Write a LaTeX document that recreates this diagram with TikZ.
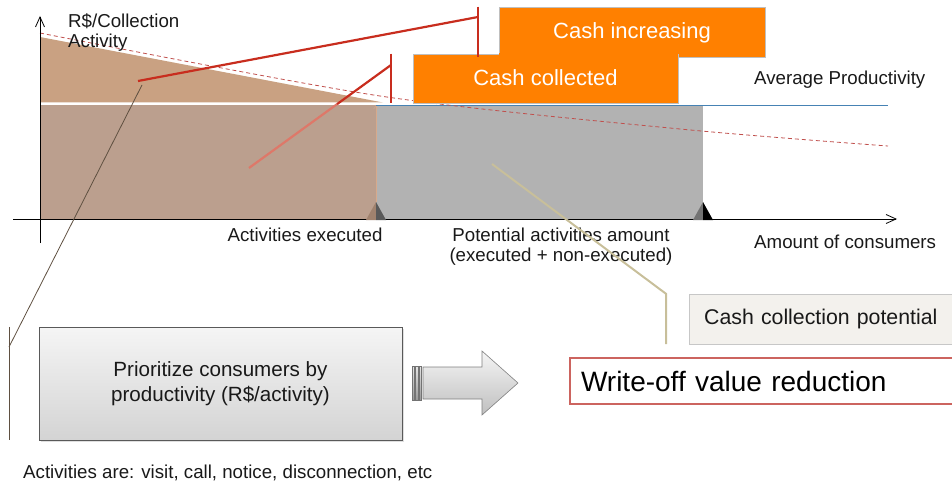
\documentclass[tikz,border=0pt]{standalone}
\usepackage{fontspec}
\setmainfont{Liberation Sans}
\usetikzlibrary{arrows.meta,shadows,calc}
\definecolor{cashorange}{RGB}{255,128,0}
\definecolor{tanfill}{RGB}{201,161,130}
\definecolor{brownfill}{RGB}{187,159,142}
\definecolor{potgray}{RGB}{178,178,178}
\definecolor{callred}{RGB}{200,45,30}
\definecolor{callpink}{RGB}{222,120,105}
\definecolor{beigeline}{RGB}{200,191,154}
\definecolor{avgblue}{RGB}{70,130,180}
\definecolor{dashred}{RGB}{192,80,77}
\definecolor{boxred}{RGB}{204,100,95}
\definecolor{ccpfill}{RGB}{243,241,237}
\definecolor{markbrown}{RGB}{160,130,110}
\definecolor{markline}{RGB}{215,170,140}
\definecolor{leadline}{RGB}{95,80,65}

\begin{document}
\begin{tikzpicture}[
  x=1pt, y=-1pt,
  lbl/.style={font=\fontsize{18.7}{20}\selectfont, text=black!90, inner sep=0pt},
  cashbox/.style={draw=black!25, line width=0.8pt, fill=cashorange, text=white,
    text height=16pt, text depth=2pt, font=\fontsize{22}{24}\selectfont},
  callout/.style={callred, line width=2.2pt},
  axis/.style={line width=0.8pt, -{Straight Barb[length=10pt,width=9pt]}},
]
\useasboundingbox (0,0) rectangle (952,484);

\fill[tanfill] (40,37) -- (383,102.5) -- (40,102.5) -- cycle;
\fill[potgray] (376,105) rectangle (703,219);
\fill[brownfill] (40,105) rectangle (376,219);
\draw[avgblue, line width=0.8pt] (376,105.5) -- (888,105.5);
\draw[dashred, line width=0.8pt, dash pattern=on 4pt off 3pt]
  plot[smooth] coordinates {(40,33) (380,96) (680,129) (888,146)};

\draw[axis] (13,219) -- (897,219);
\draw[axis] (40,243) -- (40,16);
\foreach \x/\lc/\rc in {376/markbrown/black!65, 703/black!55/black} {
  \fill[\lc] (\x,202) -- (\x-10,220) -- (\x,220) -- cycle;
  \fill[\rc] (\x,202) -- (\x+10,220) -- (\x,220) -- cycle;
}
\draw[markline, line width=0.4pt, -{To[length=3pt,width=5pt]}] (376,202) -- (376,106);

\node[lbl, anchor=north west, align=left] (ylab) at (68,13.5) {R\$/Collection\\Activity};
\node[lbl, anchor=base] (exec) at (305,241) {Activities executed};
\node[lbl, anchor=north, align=center] (pot) at (561,228) {Potential activities amount\\(executed + non-executed)};
\node[lbl, anchor=base west] (cons) at (754,248) {Amount of consumers};
\node[lbl, anchor=base west] (avg) at (754,85) {Average Productivity};

\node[cashbox, minimum width=266, minimum height=50] (ci) at (632,32) {Cash increasing};
\node[cashbox, minimum width=265, minimum height=49] (cc) at (545.5,78.5) {Cash collected};
\fill[cashorange] ($(cc.north -| ci.west)+(0.6,-0.6)$) rectangle ($(ci.south -| cc.east)+(-0.6,0.6)$);

\coordinate (ci-pt) at (138,81);
\coordinate (ci-knee) at (478,17);
\draw[callout] (ci-pt) -- (ci-knee);
\draw[callout, line width=2pt] (ci-knee |- ci.north) -- (ci-knee |- ci.south);

\coordinate (cc-pt) at (249,168);
\coordinate (cc-knee) at (391,65);
\coordinate (cc-mid) at ($(cc-pt)!0.62!(cc-knee)$);
\draw[callout, callpink] (cc-pt) -- (cc-mid);
\draw[callout] (cc-mid) -- (cc-knee);
\draw[callout, line width=2pt] (cc-knee |- cc.north) -- (cc-knee |- cc.south);

\node[draw=black!65, top color=black!4, bottom color=black!17,
  drop shadow={opacity=0.25, shadow xshift=2pt, shadow yshift=-2pt},
  minimum width=363, minimum height=113, align=center, text=black!90,
  font=\fontsize{20.6}{25}\selectfont] (prio) at (220.5,383.5) {Prioritize consumers by\\productivity (R\$/activity)};
\shade[top color=black!4, bottom color=black!25, draw=black!50, line width=0.6pt]
  (423,367) -- (482,367) -- (482,351) -- (518,383) -- (482,415) -- (482,399) -- (423,399) -- cycle;
\foreach \x in {412,415.5,419}
  \shade[top color=black!10, bottom color=black!40, draw=black!55, line width=0.4pt] (\x,366) rectangle +(2.5,34);

\node[draw=boxred, line width=2pt, fill=white, anchor=west, minimum height=46, inner xsep=11,
  text width=380, align=left, font=\fontsize{28}{30}\selectfont, text=black] (wo) at (569,381) {Write-off value reduction};
\node[draw=black!22, fill=ccpfill, anchor=west, minimum height=50, inner xsep=15,
  text width=260, align=left, text=black!90, font=\fontsize{21.3}{23}\selectfont] (ccp) at (689,319) {Cash collection potential};

\coordinate (pot-pt) at (492,164);
\coordinate (ccp-knee) at ($(ccp.north west)+(-23,0)$);
\draw[beigeline, line width=2pt] (pot-pt) -- (ccp-knee) -- (ccp-knee |- ccp.south);

\coordinate (prio-pt) at (142,85);
\coordinate (prio-knee) at (9,347);
\draw[leadline, line width=0.8pt] (prio-pt) -- (prio-knee);
\draw[leadline, line width=0.8pt] (prio-knee |- prio.north) -- (prio-knee |- prio.south);

\node[lbl, anchor=base west] (note) at (23,478) {Activities are: visit, call, notice, disconnection, etc};
\end{tikzpicture}
\end{document}
